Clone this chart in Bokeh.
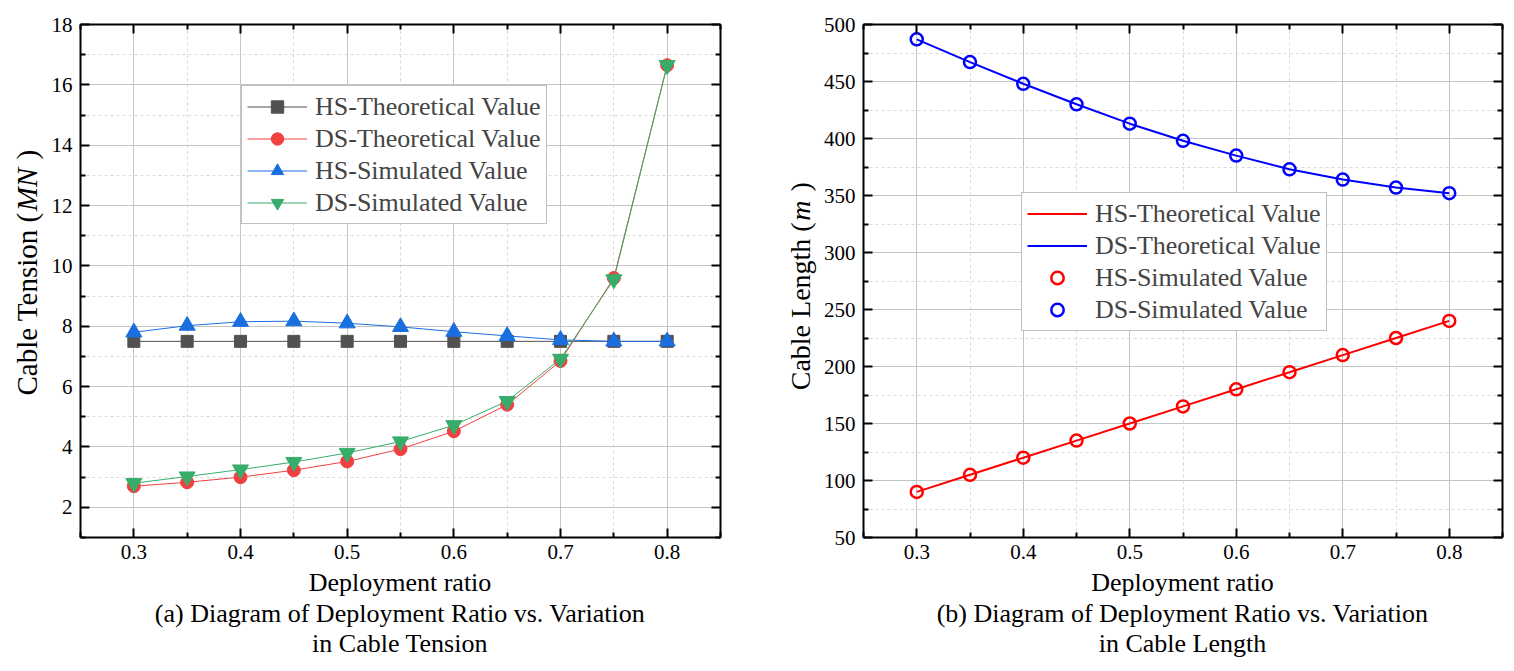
import math
from bokeh.plotting import figure
from bokeh.models import LinearAxis, FixedTicker, Legend, LegendItem, Range1d
from bokeh.layouts import row, column
from bokeh.core.properties import value
from bokeh.embed import file_html
from bokeh.resources import INLINE

# ---------------- data ----------------
ratio = [0.3, 0.35, 0.4, 0.45, 0.5, 0.55, 0.6, 0.65, 0.7, 0.75, 0.8]

hs_theo_tension = [7.5, 7.5, 7.5, 7.5, 7.5, 7.5, 7.5, 7.5, 7.5, 7.5, 7.5]
ds_theo_tension = [2.7, 2.83, 3.0, 3.23, 3.52, 3.93, 4.52, 5.4, 6.85, 9.6, 16.65]
hs_sim_tension = [7.8, 8.02, 8.15, 8.17, 8.1, 7.98, 7.82, 7.68, 7.55, 7.5, 7.5]
ds_sim_tension = [2.8, 3.02, 3.25, 3.5, 3.8, 4.18, 4.72, 5.52, 6.92, 9.55, 16.65]

hs_theo_length = [90, 105, 120, 135, 150, 165, 180, 195, 210, 225, 240]
ds_theo_length = [487, 467, 448, 430, 413, 398, 385, 373, 364, 357, 352]
hs_sim_length = [90, 105, 120, 135, 150, 165, 180, 195, 210, 225, 240]
ds_sim_length = [487, 467, 448, 430, 413, 398, 385, 373, 364, 357, 352]

x_ticks = [0.3, 0.4, 0.5, 0.6, 0.7, 0.8]
x_minor = [0.25, 0.35, 0.45, 0.55, 0.65, 0.75, 0.85]
tension_ticks = [2, 4, 6, 8, 10, 12, 14, 16, 18]
tension_minor = [1, 3, 5, 7, 9, 11, 13, 15, 17]
length_ticks = [50, 100, 150, 200, 250, 300, 350, 400, 450, 500]
length_minor = [75, 125, 175, 225, 275, 325, 375, 425, 475]

series_names = ["HS-Theoretical Value", "DS-Theoretical Value", "HS-Simulated Value", "DS-Simulated Value"]
x_title = "Deployment ratio"
caption_a = ["(a) Diagram of Deployment Ratio vs. Variation", "in Cable Tension"]
caption_b = ["(b) Diagram of Deployment Ratio vs. Variation", "in Cable Length"]
ylabel_a = ["Cable Tension (", "MN", ")"]
ylabel_b = ["Cable Length (", "m", ")"]

FONT = "Liberation Serif"
TOP_H = 568      # height of the plot row
CAP_H = 95       # height of the caption row
MID = 0.3        # distance (em) between text middle and baseline


def style_axis(ax, labels=True):
    ax.axis_line_width = 2
    ax.axis_line_color = "black"
    ax.major_tick_in = 9
    ax.major_tick_out = 0
    ax.minor_tick_in = 5
    ax.minor_tick_out = 0
    ax.major_tick_line_width = 2
    ax.minor_tick_line_width = 2
    ax.major_tick_line_color = "black"
    ax.minor_tick_line_color = "black"
    ax.axis_label = None
    if labels:
        ax.major_label_text_font = FONT
        ax.major_label_text_font_size = "21px"
        ax.major_label_text_color = "black"
    else:
        ax.major_label_text_font_size = "1px"
        ax.major_label_standoff = 0
        ax.major_label_text_alpha = 0


def make_fig(width, mb_left, mb_right, xr, yr, yt, ym):
    p = figure(width=width, height=TOP_H, output_backend="svg", toolbar_location=None,
               x_range=Range1d(*xr), y_range=Range1d(*yr),
               min_border_left=mb_left, min_border_right=mb_right,
               min_border_top=24, min_border_bottom=TOP_H - 537)
    p.outline_line_color = None
    p.background_fill_color = "white"
    p.border_fill_color = "white"
    xtk = FixedTicker(ticks=x_ticks, minor_ticks=x_minor)
    ytk = FixedTicker(ticks=yt, minor_ticks=ym)
    p.xaxis.ticker = xtk
    p.yaxis.ticker = ytk
    style_axis(p.xaxis[0])
    style_axis(p.yaxis[0])
    p.xaxis[0].major_label_standoff = 7
    p.yaxis[0].major_label_standoff = 8
    top = LinearAxis(ticker=xtk)
    right = LinearAxis(ticker=ytk)
    style_axis(top, False)
    style_axis(right, False)
    p.add_layout(top, "above")
    p.add_layout(right, "right")
    for g in (p.xgrid[0], p.ygrid[0]):
        g.grid_line_color = "#c4c4c4"
        g.grid_line_width = 1
        g.minor_grid_line_color = "#dadada"
        g.minor_grid_line_dash = "3 3"
        g.minor_grid_line_width = 1
    p.xgrid[0].ticker = xtk
    p.ygrid[0].ticker = ytk
    return p


def text_fig(width, height):
    f = figure(width=width, height=height, output_backend="svg", toolbar_location=None,
               x_range=Range1d(0, width), y_range=Range1d(height, 0),
               x_axis_location=None, y_axis_location=None, min_border=0)
    f.min_border_left = 0
    f.min_border_right = 0
    f.min_border_top = 0
    f.min_border_bottom = 0
    f.outline_line_color = None
    f.grid.visible = False
    f.background_fill_color = "white"
    f.border_fill_color = "white"
    return f


def put_text(f, x, y, txt, size, angle=0.0, style="normal"):
    f.text(x=[x], y=[y], text=[txt], text_font=value(FONT), text_font_size=value(f"{size}px"),
           text_align=value("center"), text_baseline=value("middle"), angle=angle,
           text_font_style=value(style), text_color="black")


def caption_line(f, cx, baseline, txt, size):
    put_text(f, cx, baseline - MID * size, txt, size)


def vertical_label(f, baseline_x, y0, parts, widths_em, size):
    # parts: plain, italic, plain ; text runs upward from y0
    space = 0.42
    x = baseline_x - MID * size
    w1, w2, w3 = [w * size for w in widths_em]
    sp = space * size
    put_text(f, x, y0 - w1 / 2, parts[0], size, angle=math.pi / 2)
    put_text(f, x, y0 - w1 - sp - w2 / 2, parts[1], size, angle=math.pi / 2, style="italic")
    put_text(f, x, y0 - w1 - sp - w2 - sp - w3 / 2, parts[2], size, angle=math.pi / 2)


def add_legend(p, items, loc):
    lg = Legend(items=items, location=loc)
    lg.border_line_color = "#808080"
    lg.border_line_width = 1.5
    lg.background_fill_color = "white"
    lg.background_fill_alpha = 1.0
    lg.padding = 5
    lg.spacing = 1
    lg.margin = 0
    lg.glyph_width = 60
    lg.glyph_height = 31
    lg.label_height = 31
    lg.label_standoff = 8
    lg.label_text_font = FONT
    lg.label_text_font_size = "26px"
    p.add_layout(lg)


xr = (0.25, 0.85)

# ---------------- panel (a) ----------------
YLA_W = 48
PA_W = 732
pa = make_fig(PA_W, 79 - YLA_W, YLA_W + PA_W - 720, xr, (1, 18), tension_ticks, tension_minor)

cols_a = ["#515151", "#F14040", "#1A6FDF", "#37AD6B"]
markers_a = ["square", "circle", "triangle", "inverted_triangle"]
sizes_a = [12, 13, 16, 16]
data_a = [hs_theo_tension, ds_theo_tension, hs_sim_tension, ds_sim_tension]
items_a = []
for name, ys, c, m, s in zip(series_names, data_a, cols_a, markers_a, sizes_a):
    ln = pa.line(ratio, ys, line_color=c, line_width=1)
    sc = pa.scatter(ratio, ys, marker=m, size=s, fill_color=c, line_color=c, line_width=1)
    items_a.append(LegendItem(label=name, renderers=[ln, sc]))
add_legend(pa, items_a, (161, 313))

yla = text_fig(YLA_W, TOP_H)
vertical_label(yla, 35, 402, ylabel_a, [6.388, 1.5, 0.333], 29)

# ---------------- panel (b) ----------------
YLB_W = 40
PB_W = 686
x0_b = YLA_W + PA_W + YLB_W
pb = make_fig(PB_W, 862 - x0_b, x0_b + PB_W - 1502, xr, (50, 500), length_ticks, length_minor)

cols_b = ["#FF0000", "#0000FF"]
l1 = pb.line(ratio, hs_theo_length, line_color=cols_b[0], line_width=2)
l2 = pb.line(ratio, ds_theo_length, line_color=cols_b[1], line_width=2)
s1 = pb.scatter(ratio, hs_sim_length, marker="circle", size=12, fill_color=None, line_color=cols_b[0], line_width=2.5)
s2 = pb.scatter(ratio, ds_sim_length, marker="circle", size=12, fill_color=None, line_color=cols_b[1], line_width=2.5)
items_b = [LegendItem(label=series_names[0], renderers=[l1]),
           LegendItem(label=series_names[1], renderers=[l2]),
           LegendItem(label=series_names[2], renderers=[s1]),
           LegendItem(label=series_names[3], renderers=[s2])]
add_legend(pb, items_b, (158, 206))

ylb = text_fig(YLB_W, TOP_H)
vertical_label(ylb, 808 - (YLA_W + PA_W), 396, ylabel_b, [5.999, 0.722, 0.333], 28)

# ---------------- captions ----------------
capa = text_fig(YLA_W + PA_W, CAP_H)
cx_a = (79 + 720) / 2
caption_line(capa, cx_a, 590 - TOP_H, x_title, 26)
caption_line(capa, cx_a, 621 - TOP_H, caption_a[0], 26)
caption_line(capa, cx_a, 651 - TOP_H, caption_a[1], 26)

capb = text_fig(YLB_W + PB_W, CAP_H)
cx_b = (862 + 1502) / 2 - (YLA_W + PA_W)
caption_line(capb, cx_b, 590 - TOP_H, x_title, 26)
caption_line(capb, cx_b, 621 - TOP_H, caption_b[0], 26)
caption_line(capb, cx_b, 651 - TOP_H, caption_b[1], 26)

layout = column(row(yla, pa, ylb, pb), row(capa, capb))
open("out.html", "w").write(file_html(layout, INLINE))
